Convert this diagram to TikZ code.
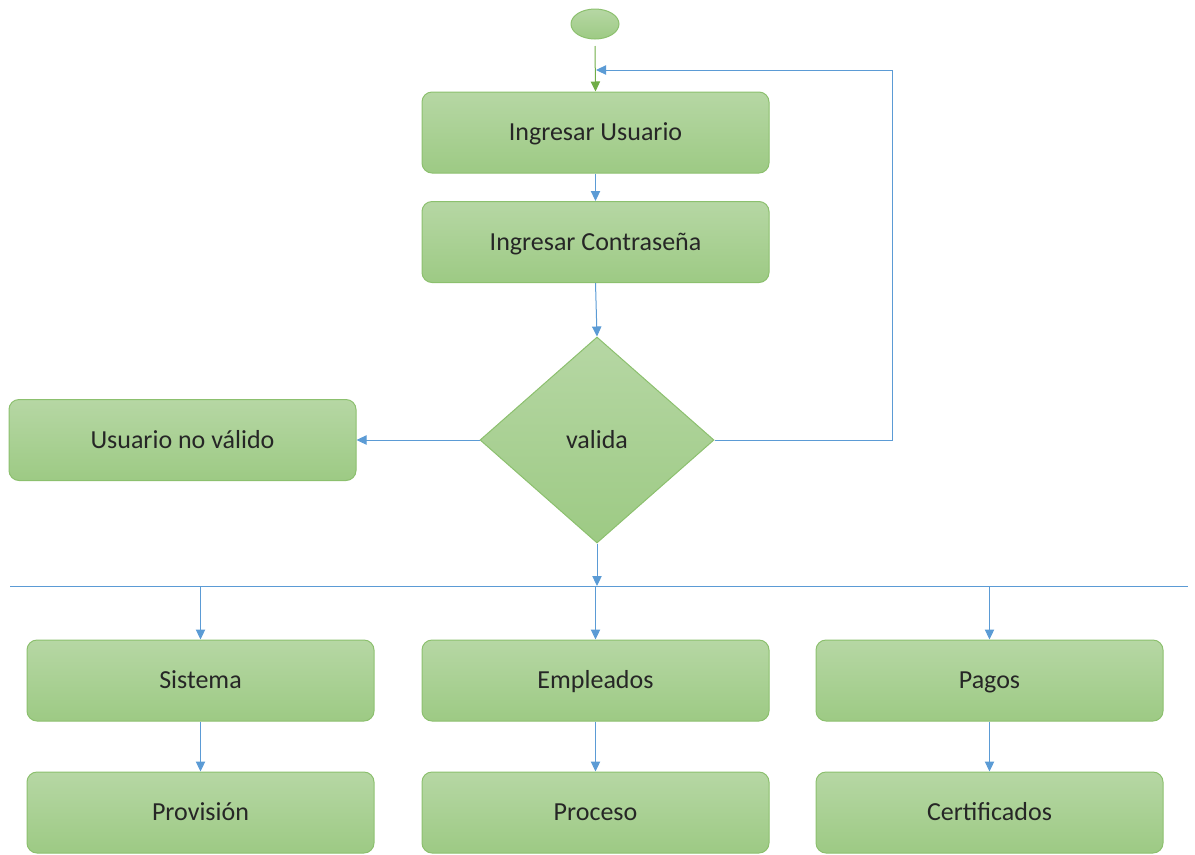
\documentclass[tikz,border=0pt]{standalone}
\usepackage{fontspec}
\setmainfont{Carlito}
\usetikzlibrary{arrows.meta,shapes.geometric}
\definecolor{gtop}{RGB}{182,215,164}
\definecolor{gbot}{RGB}{157,202,132}
\definecolor{gline}{RGB}{140,192,110}
\definecolor{bline}{RGB}{91,155,213}
\definecolor{garrow}{RGB}{112,173,71}
\tikzset{
  txt/.style={font=\fontsize{19.5}{22}\selectfont, text=black!85, text height=2.8ex, text depth=0.25ex},
  box/.style={txt, draw=gline, line width=0.75pt, rounded corners=7.5pt, top color=gtop, bottom color=gbot,
    minimum width=260.25pt, minimum height=60.75pt, inner sep=0pt},
  dia/.style={txt, draw=gline, line width=0.75pt, diamond, top color=gtop, bottom color=gbot, aspect=1.136,
    minimum width=175.5pt, minimum height=154.5pt, inner sep=0pt},
  startnode/.style={draw=gline, line width=0.75pt, ellipse, top color=gtop, bottom color=gbot,
    minimum width=36pt, minimum height=22.5pt, inner sep=0pt},
  conn/.style={draw=bline, line width=0.75pt, -{Triangle[length=7.5pt,width=7pt]}},
  gconn/.style={draw=garrow, line width=0.75pt, -{Triangle[length=7.5pt,width=7pt]}},
  plain/.style={draw=bline, line width=0.75pt}
}
\begin{document}
\begin{tikzpicture}[x=0.75pt,y=-0.75pt]
\useasboundingbox (0,0) rectangle (1195,854);
\node[startnode] (s) at (595,24) {};
\node[box] (iu) at (595.5,132.5) {Ingresar Usuario};
\node[box] (ic) at (595.5,242) {Ingresar Contraseña};
\node[dia] (v) at (597,440) {valida};
\node[box] (nv) at (182.5,440) {Usuario no válido};
\node[box] (sis) at (200.5,680.5) {Sistema};
\node[box] (emp) at (595.5,680.5) {Empleados};
\node[box] (pag) at (989.5,680.5) {Pagos};
\node[box] (prov) at (200.5,812.5) {Provisión};
\node[box] (proc) at (595.5,812.5) {Proceso};
\node[box] (cert) at (989.5,812.5) {Certificados};
\coordinate (bl) at (10,586);
\coordinate (br) at (1188,586);
\coordinate (bm) at (597,586);
\coordinate (loopa) at (892,440);
\coordinate (loopb) at (892,70);
\coordinate (loopc) at (596,70);
\coordinate (s1) at (595,46);
\draw[gconn] (s1) -- (iu.north);
\draw[conn] (iu.south) -- (ic.north);
\draw[conn] (ic.south) -- (v.north);
\draw[conn] (v.west) -- (nv.east);
\draw[plain] (v.east) -- (loopa) -- (loopb);
\draw[conn] (loopb) -- (loopc);
\draw[plain] (bl) -- (br);
\draw[conn] (v.south) -- (bm);
\draw[conn] (sis.north |- bm) -- (sis.north);
\draw[conn] (emp.north |- bm) -- (emp.north);
\draw[conn] (pag.north |- bm) -- (pag.north);
\draw[conn] (sis) -- (prov);
\draw[conn] (emp) -- (proc);
\draw[conn] (pag) -- (cert);
\end{tikzpicture}
\end{document}
